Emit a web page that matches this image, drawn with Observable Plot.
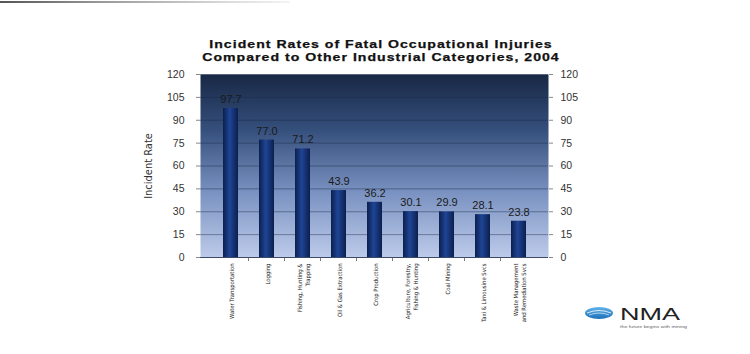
<!DOCTYPE html>
<html>
<head>
<meta charset="utf-8">
<script src="https://cdn.jsdelivr.net/npm/d3@7"></script>
<script src="https://cdn.jsdelivr.net/npm/@observablehq/plot@0.6"></script>
<style>
  html, body { margin: 0; padding: 0; background: #fff; }
  #wrap { position: relative; width: 750px; height: 354px; overflow: hidden; font-family: Arial, "Liberation Sans", sans-serif; }
  .title { position: absolute; left: 0; width: 762px; text-align: center; font-family: "Liberation Sans", Arial, sans-serif; font-weight: bold; font-size: 11px; line-height: 12.5px; letter-spacing: 0.8px; color: #111; white-space: nowrap; transform: scaleX(1.28); transform-origin: 381px 0; -webkit-text-stroke: 0.25px #111; }
  #t1 { top: 38px; }
  #t2 { top: 51px; }
  #topline { position: absolute; left: 0; top: 1px; width: 290px; height: 2px; background: linear-gradient(to right, #555, #999 35%, #ddd 80%, #f4f4f4); }
  #logo { position: absolute; left: 580px; top: 302px; }
  svg { overflow: visible; }
</style>
</head>
<body>
<div id="wrap">
  <div id="topline"></div>
  <div class="title" id="t1">Incident Rates of Fatal Occupational Injuries</div>
  <div class="title" id="t2">Compared to Other Industrial Categories, 2004</div>
  <div id="chart"></div>
  <svg id="logo" width="120" height="30" viewBox="0 0 120 30">
    <defs>
      <linearGradient id="lg" x1="0" y1="0" x2="0" y2="1">
        <stop offset="0" stop-color="#5fb4e8"/>
        <stop offset="1" stop-color="#1c6fb8"/>
      </linearGradient>
    </defs>
    <ellipse cx="19" cy="11" rx="14" ry="6" fill="url(#lg)"/>
    <path d="M7 11 Q19 6 31 11" stroke="#fff" stroke-width="0.8" fill="none"/>
    <path d="M9 13 Q19 9 29 13" stroke="#fff" stroke-width="0.6" fill="none"/>
    <text x="40" y="18" font-family="Arial, sans-serif" font-size="16" font-weight="300" fill="#222" textLength="60" lengthAdjust="spacingAndGlyphs">NMA</text>
    <text x="40" y="25.5" font-family="Arial, sans-serif" font-size="3.4" fill="#666" textLength="67" lengthAdjust="spacingAndGlyphs">the future begins with mining</text>
  </svg>
</div>
<script>
const categories = [
  "Water Transportation",
  "Logging",
  "Fishing, Hunting &\nTrapping",
  "Oil & Gas Extraction",
  "Crop Production",
  "Agriculture, Forestry,\nFishing & Hunting",
  "Coal Mining",
  "Taxi & Limousine Svcs",
  "Waste Management\nand Remediation Svcs"
];
const values = [97.7, 77.0, 71.2, 43.9, 36.2, 30.1, 29.9, 28.1, 23.8];
const yTicks = [0, 15, 30, 45, 60, 75, 90, 105, 120];
const yLabel = "Incident Rate";

const data = categories.map((c, i) => ({category: c, value: values[i]}));
const narrow = "'Liberation Sans Narrow', 'Arial Narrow', 'DejaVu Sans Condensed', sans-serif";

const chart = Plot.plot({
  width: 750,
  height: 354,
  marginLeft: 200,
  marginRight: 202,
  marginTop: 74,
  marginBottom: 97,
  style: {background: "transparent", fontFamily: "Arial, 'Liberation Sans', sans-serif", overflow: "visible"},
  x: {domain: categories, padding: 0.59, axis: null},
  y: {domain: [0, 120], ticks: yTicks, axis: null},
  marks: [
    Plot.frame({fill: "url(#bgGrad)", stroke: null}),
    Plot.gridY(yTicks, {stroke: "#1a2a48", strokeOpacity: 0.55, strokeWidth: 0.8}),
    Plot.barY(data, {x: "category", y: "value", fill: "url(#barGrad)"}),
    Plot.text(data, {x: "category", y: "value", text: d => d.value.toFixed(1), dy: -9, fontSize: 11, fill: "#1a1a1a", letterSpacing: 0.6}),
    Plot.axisY({ticks: yTicks, anchor: "left", tickSize: 4, tickPadding: 12, fontSize: 10.5, label: null, stroke: "#888", color: "#333", letterSpacing: 0.3}),
    Plot.axisY({ticks: yTicks, anchor: "right", tickSize: 4, tickPadding: 8, fontSize: 10.5, label: null, stroke: "#888", color: "#333", letterSpacing: 0.3}),
    Plot.text(categories, {x: d => d, frameAnchor: "bottom", rotate: -90, textAnchor: "end", lineAnchor: "middle", dy: 6, fontSize: 5.9, fill: "#222", lineHeight: 1.35, fontFamily: narrow}),
    Plot.ruleY([0], {stroke: "#3a4a66", strokeWidth: 1}),
    Plot.text([yLabel], {frameAnchor: "left", textAnchor: "middle", rotate: -90, dx: -52, fontSize: 11, fill: "#333", fontFamily: narrow})
  ]
});

const defs = d3.select(chart).insert("defs", ":first-child");
const bg = defs.append("linearGradient").attr("id", "bgGrad").attr("x1", 0).attr("y1", 0).attr("x2", 0).attr("y2", 1);
bg.append("stop").attr("offset", 0).attr("stop-color", "#182845");
bg.append("stop").attr("offset", 0.3).attr("stop-color", "#354f7c");
bg.append("stop").attr("offset", 0.65).attr("stop-color", "#7b93c2");
bg.append("stop").attr("offset", 1).attr("stop-color", "#bdcbea");
const bg2 = defs.append("linearGradient").attr("id", "barGrad").attr("x1", 0).attr("y1", 0).attr("x2", 1).attr("y2", 0);
bg2.append("stop").attr("offset", 0).attr("stop-color", "#0b1f4e");
bg2.append("stop").attr("offset", 0.45).attr("stop-color", "#1f4595");
bg2.append("stop").attr("offset", 1).attr("stop-color", "#0b1f4e");

// category-boundary tick marks below the baseline
const xs = chart.scale("x");
const band = xs.step;
const g = d3.select(chart).append("g").attr("stroke", "#555").attr("stroke-width", 0.8);
for (let i = 1; i < categories.length; i++) {
  const x = xs.apply(categories[i]) - (band - xs.bandwidth) / 2;
  g.append("line").attr("x1", x).attr("x2", x).attr("y1", 257).attr("y2", 261);
}

chart.style.position = "absolute";
chart.style.left = "0px";
chart.style.top = "0px";
document.getElementById("chart").appendChild(chart);
</script>
</body>
</html>
